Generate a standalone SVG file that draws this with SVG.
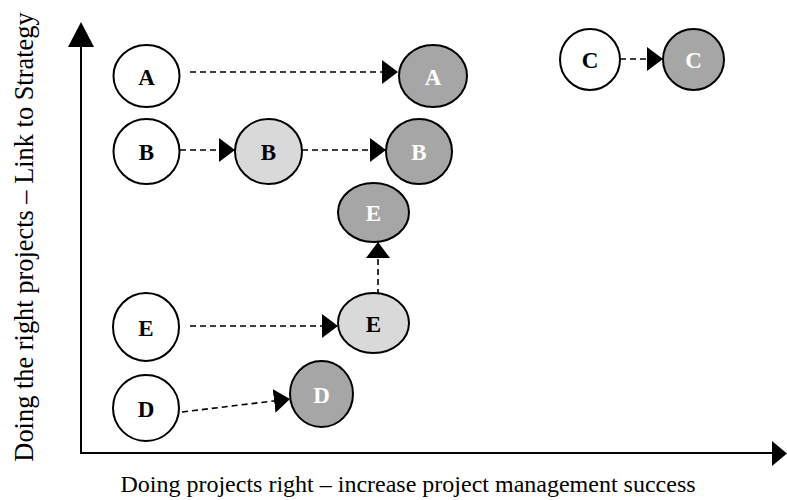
<svg xmlns="http://www.w3.org/2000/svg" width="787" height="500" viewBox="0 0 787 500">
<style>
.w{fill:#ffffff;stroke:#000;stroke-width:2}
.l{fill:#d9d9d9;stroke:#000;stroke-width:2}
.g{fill:#a6a6a6;stroke:#000;stroke-width:2}
.t{font-family:"Liberation Serif","Times New Roman",serif;font-weight:bold;font-size:23px;text-anchor:middle;fill:#000}
.tw{font-family:"Liberation Serif","Times New Roman",serif;font-weight:bold;font-size:23px;text-anchor:middle;fill:#ffffff}
.c{fill:none;stroke:#000;stroke-width:1.6;stroke-dasharray:6,4;marker-end:url(#ah)}
.ax{fill:none;stroke:#000;stroke-width:2}
.lab{font-family:"Liberation Serif","Times New Roman",serif;font-size:24px;fill:#000}
</style>
<defs>
<marker id="ah" markerUnits="userSpaceOnUse" markerWidth="16" markerHeight="24" refX="16" refY="12" orient="auto" viewBox="0 0 16 24">
<path d="M0,0 L16,12 L0,24 z" fill="#000"/>
</marker>
</defs>
<g id="axes">
<line class="ax" x1="81" y1="45" x2="81" y2="454"/>
<line class="ax" x1="80" y1="453" x2="774" y2="453"/>
<path d="M81,22 L94,47 L68,47 z" fill="#000"/>
<path d="M787,453.5 L772,441 L772,466 z" fill="#000"/>
<text class="lab" x="408" y="492" text-anchor="middle">Doing projects right – increase project management success</text>
<text class="lab" style="font-size:26.4px" transform="translate(33,237) rotate(-90)" text-anchor="middle">Doing the right projects – Link to Strategy</text>
</g>
<g id="connectors">
<line class="c" x1="190" y1="72" x2="398" y2="72"/>
<line class="c" x1="180" y1="150" x2="235" y2="150"/>
<line class="c" x1="302" y1="150" x2="386" y2="150"/>
<line class="c" x1="620" y1="59" x2="663" y2="59"/>
<line class="c" x1="190" y1="326" x2="338" y2="326"/>
<line class="c" x1="378" y1="295" x2="378" y2="242"/>
<line class="c" x1="182" y1="412" x2="290" y2="399"/>
</g>
<g id="nodeA1"><ellipse class="w" cx="146.5" cy="76" rx="33" ry="31"/><text class="t" x="146.5" y="85">A</text></g>
<g id="nodeA2"><ellipse class="g" cx="433" cy="76" rx="34" ry="31"/><text class="tw" x="433" y="85">A</text></g>
<g id="nodeB1"><ellipse class="w" cx="146.5" cy="151.5" rx="33" ry="32.5"/><text class="t" x="146.5" y="160">B</text></g>
<g id="nodeB2"><ellipse class="l" cx="268.5" cy="151.5" rx="33.5" ry="32.5"/><text class="t" x="268.5" y="160">B</text></g>
<g id="nodeB3"><ellipse class="g" cx="419" cy="151.5" rx="33" ry="32.5"/><text class="tw" x="419" y="160">B</text></g>
<g id="nodeC1"><ellipse class="w" cx="590" cy="59.5" rx="30" ry="30.5"/><text class="t" x="590" y="68">C</text></g>
<g id="nodeC2"><ellipse class="g" cx="693.5" cy="59.5" rx="30.5" ry="30.5"/><text class="tw" x="693.5" y="68">C</text></g>
<g id="nodeE3"><ellipse class="g" cx="373.5" cy="212.5" rx="35.5" ry="29.5"/><text class="tw" x="373.5" y="221">E</text></g>
<g id="nodeE2"><ellipse class="l" cx="373.5" cy="323" rx="35.5" ry="30"/><text class="t" x="373.5" y="331.5">E</text></g>
<g id="nodeE1"><ellipse class="w" cx="146" cy="327" rx="33" ry="34"/><text class="t" x="146" y="335.5">E</text></g>
<g id="nodeD1"><ellipse class="w" cx="146" cy="408" rx="33" ry="33"/><text class="t" x="146" y="416.5">D</text></g>
<g id="nodeD2"><ellipse class="g" cx="321.5" cy="394" rx="31.5" ry="33"/><text class="tw" x="321.5" y="402.5">D</text></g>
</svg>
